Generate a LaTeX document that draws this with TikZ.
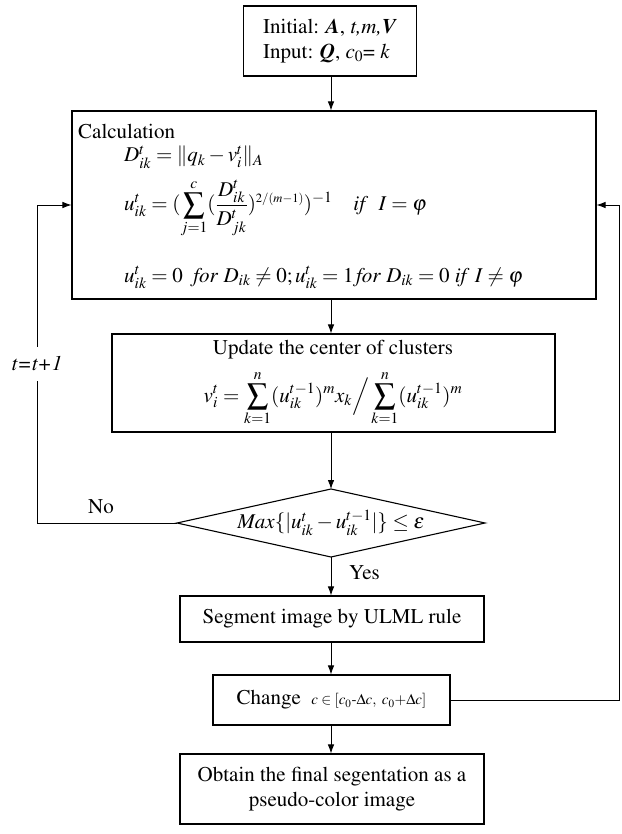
\documentclass[tikz,border=0pt]{standalone}
\usepackage[T1]{fontenc}
\usepackage{mathptmx}
\usetikzlibrary{arrows.meta}
\newcommand{\fsz}{\fontsize{21}{25}\selectfont}
\begin{document}
\begin{tikzpicture}[x=1pt,y=-1pt,
  box/.style={draw, line width=1.1pt, inner sep=0pt, font=\fsz},
  arr/.style={-{Latex[length=9pt,width=6.5pt]}, line width=0.8pt},
  lbl/.style={inner sep=0pt, font=\fsz}]
\useasboundingbox (0,0) rectangle (621,834);
\coordinate (ax) at (331,0);
\coordinate (lx) at (37,0);
\coordinate (rx) at (619,0);

% initial
\node[box, minimum width=173pt, minimum height=70pt, align=left] (init) at (330,41)
  {Initial: \textbf{\textit{A}}, \textit{t,m,}\textbf{\textit{V}}\\ Input: \textbf{\textit{Q}}, $c_0$= \textit{k}};

% calculation
\node[box, minimum width=524pt, minimum height=188pt] (calc) at (334,205) {};
\node[lbl, anchor=base west] (calct) at (78,139) {Calculation};
\node[lbl, anchor=base west] (eq1) at (124,162) {$D_{ik}^{t} = \| q_k - v_i^t \|_A$};
\node[lbl, anchor=base west] (eq2) at (124,211) {$\displaystyle u_{ik}^{t} = (\sum_{j=1}^{c} (\frac{D_{ik}^t}{D_{jk}^t})^{\scriptscriptstyle 2/(m-1)})^{-1} \quad \mathit{if}\ \ I=\varphi$};
\node[lbl, anchor=base west] (eq3) at (124,282) {$u_{ik}^{t}=0\ \ \mathit{for}\ D_{ik}\neq 0; u_{ik}^{t}=1\,\mathit{for}\ D_{ik}=0\ \mathit{if}\ I\neq\varphi$};

% update
\node[box, minimum width=443pt, minimum height=98pt] (upd) at (333.5,383) {};
\node[lbl, anchor=base] (updt) at (333,354) {Update the center of clusters};
\node[lbl, anchor=base] (eq4) at (333,402) {$\displaystyle v_i^t = \sum_{k=1}^{n}(u_{ik}^{t-1})^m x_k \Big/ \sum_{k=1}^{n}(u_{ik}^{t-1})^m$};

% decision
\coordinate (dt) at (331,489);
\coordinate (db) at (331,557);
\coordinate (dl) at (177,523);
\coordinate (dr) at (485,523);
\draw[line width=1.1pt] (dt) -- (dr) -- (db) -- (dl) -- cycle;
\node[lbl] (dtext) at (331,523) {$\mathit{Max}\{|u_{ik}^t - u_{ik}^{t-1}|\}\le\varepsilon$};

% lower boxes
\node[box, minimum width=304pt, minimum height=46pt] (seg) at (332,619) {Segment image by ULML rule};
\node[box, minimum width=237pt, minimum height=50pt] (chg) at (331.5,700)
  {Change\ \ {\fontsize{15}{18}\selectfont $c\in[c_0\mbox{-}\Delta c,\ c_0{+}\Delta c]$}};
\node[box, minimum width=304pt, minimum height=70pt, align=center] (obt) at (332,789)
  {Obtain the final segentation as a\\ pseudo-color image};

% connectors
\draw[arr] (init.south -| ax) -- (calc.north -| ax);
\draw[arr] (calc.south -| ax) -- (upd.north -| ax);
\draw[arr] (upd.south -| ax) -- (dt);
\draw[arr] (db) -- (seg.north -| ax);
\draw[arr] (seg.south -| ax) -- (chg.north -| ax);
\draw[arr] (chg.south -| ax) -- (obt.north -| ax);
\draw[arr] (dl) -- (dl -| lx) -- (lx |- calc.west) -- (calc.west);
\draw[arr] (chg.east) -- (chg.east -| rx) -- (rx |- calc.east) -- (calc.east);

% labels
\node[lbl, fill=white, inner ysep=10pt, inner xsep=1pt] (tt) at (37,364) {\textit{t=t+1}};
\node[lbl] (no) at (101,507) {No};
\node[lbl, anchor=west] (yes) at (349,573) {Yes};
\end{tikzpicture}
\end{document}
